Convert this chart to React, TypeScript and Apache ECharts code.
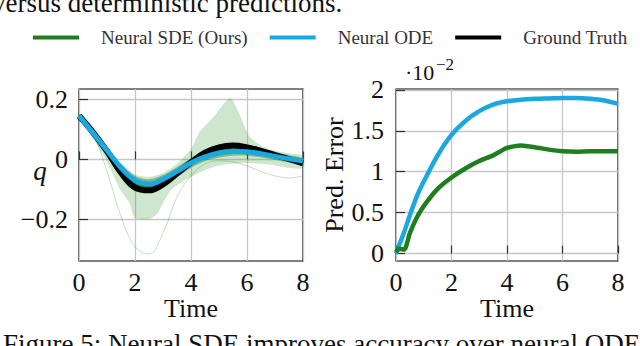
import React, { useEffect, useRef } from 'react';
import * as echarts from 'echarts';

const FONT = "'Liberation Serif', 'Times New Roman', serif";

const legendNames = ['Neural SDE (Ours)', 'Neural ODE', 'Ground Truth'];
const timeTicks = [0, 2, 4, 6, 8];
const qTicks = [-0.2, 0, 0.2];
const errTicks = [0, 0.5, 1, 1.5, 2];

// Left panel: trajectories q(t)
const qTime = [0, 0.5, 1, 1.5, 2, 2.5, 3, 3.5, 4, 4.5, 5, 5.5, 6, 6.5, 7, 7.5, 8];
const groundTruthQ = [0.145, 0.09, 0.027, -0.044, -0.094, -0.103, -0.083, -0.047, -0.01, 0.022, 0.04, 0.046, 0.04, 0.028, 0.014, 0.001, -0.013];
const odeQ = [0.145, 0.088, 0.03, -0.028, -0.07, -0.082, -0.066, -0.04, -0.012, 0.008, 0.021, 0.027, 0.025, 0.019, 0.01, 0.002, -0.005];
const sdeMeanQ = [0.145, 0.088, 0.028, -0.035, -0.078, -0.09, -0.075, -0.045, -0.012, 0.014, 0.028, 0.034, 0.031, 0.022, 0.012, 0.002, -0.008];
const sdeDenseUpper = [0.152, 0.098, 0.042, -0.015, -0.055, -0.066, -0.052, -0.025, 0.004, 0.03, 0.045, 0.05, 0.046, 0.036, 0.025, 0.014, 0.004];
const sdeDenseLower = [0.138, 0.078, 0.015, -0.055, -0.098, -0.108, -0.092, -0.06, -0.028, -0.006, 0.006, 0.012, 0.012, 0.006, -0.002, -0.01, -0.018];
const sdeOutlierQ = [0.145, 0.085, -0.04, -0.19, -0.29, -0.315, -0.245, -0.125, -0.055, -0.015, -0.005, -0.008, -0.022, -0.04, -0.055, -0.062, -0.055];

const spreadUpperTime = [0, 0.5, 1, 1.5, 2, 2.5, 3, 3.5, 4, 4.3, 4.8, 5.4, 5.75, 6.1, 6.7, 7.5, 8];
const spreadUpper = [0.152, 0.1, 0.042, -0.013, -0.05, -0.058, -0.045, -0.015, 0.035, 0.09, 0.14, 0.203, 0.147, 0.075, 0.037, 0.02, 0.012];
const spreadLowerTime = [0, 0.5, 1, 1.5, 1.8, 2, 2.5, 2.8, 3, 3.3, 3.6, 4, 4.5, 5, 6, 7, 8];
const spreadLower = [0.138, 0.07, -0.01, -0.105, -0.145, -0.195, -0.198, -0.18, -0.145, -0.1, -0.08, -0.058, -0.035, -0.02, -0.012, -0.02, -0.03];

// Right panel: prediction error (x 1e-2)
const errTime = [0, 0.1, 0.3, 0.5, 0.75, 1, 1.5, 2, 2.5, 3, 3.5, 4, 4.5, 5, 5.5, 6, 6.5, 7, 7.5, 8];
const sdeErr = [0.02, 0.06, 0.05, 0.25, 0.44, 0.58, 0.79, 0.93, 1.04, 1.13, 1.2, 1.29, 1.32, 1.3, 1.27, 1.25, 1.245, 1.25, 1.25, 1.25];
const odeErr = [0.0, 0.09, 0.27, 0.47, 0.7, 0.88, 1.2, 1.45, 1.62, 1.74, 1.82, 1.86, 1.88, 1.89, 1.895, 1.9, 1.9, 1.89, 1.87, 1.83];

const GREEN = '#1f7f1f';
const CYAN = '#1aa8e0';
const BLACK = '#000000';

const pairs = (xs: number[], ys: number[]) => xs.map((x, i) => [x, ys[i]]);

const fmtNum = (v: number) => {
  const r = Math.round(v * 1000) / 1000;
  if (r === 0) return '0';
  return r < 0 ? '\u2212' + String(Math.abs(r)) : String(r);
};

function bandSeries(name: string, upT: number[], up: number[], loT: number[], lo: number[], fill: string) {
  return {
    name,
    type: 'custom',
    xAxisIndex: 0,
    yAxisIndex: 0,
    silent: true,
    data: [[0, 0]],
    renderItem: (_params: any, api: any) => {
      const pts: number[][] = [];
      upT.forEach((t, i) => pts.push(api.coord([t, up[i]])));
      for (let i = loT.length - 1; i >= 0; i--) pts.push(api.coord([loT[i], lo[i]]));
      return {
        type: 'polygon',
        shape: { points: pts, smooth: 0.25 },
        style: { fill, stroke: 'none' },
      };
    },
  };
}

const axisCommonX = (gridIndex: number) => ({
  type: 'value',
  gridIndex,
  min: 0,
  max: 8,
  interval: 2,
  name: 'Time',
  nameLocation: 'middle',
  nameGap: 27,
  nameTextStyle: { fontFamily: FONT, fontSize: 26, color: '#111' },
  axisLine: { show: false },
  axisTick: { show: true, inside: true, length: 8, customValues: timeTicks, lineStyle: { color: '#333', width: 1.2 } },
  axisLabel: { fontFamily: FONT, fontSize: 26, color: '#111', margin: 8, customValues: timeTicks, formatter: (v: number) => fmtNum(v) },
  splitLine: { show: true, lineStyle: { color: '#c6c6c6', width: 1.3 } },
});

export default function App() {
  const ref = useRef<HTMLDivElement>(null);

  useEffect(() => {
    if (!ref.current) return;
    const chart = echarts.init(ref.current, undefined, { renderer: 'svg' });
    const option: any = {
      animation: false,
      backgroundColor: '#ffffff',
      legend: {
        data: legendNames,
        left: 28,
        top: 23,
        icon: 'rect',
        itemWidth: 46,
        itemHeight: 4,
        itemGap: 22,
        textStyle: { fontFamily: FONT, fontSize: 19, color: '#333', padding: [0, 0, 0, 17] },
        selectedMode: false,
      },
      grid: [
        { left: 79, top: 89, width: 224, height: 172, show: true, borderColor: '#000', borderWidth: 1.2, backgroundColor: 'transparent' },
        { left: 396, top: 89, width: 222, height: 172, show: true, borderColor: '#000', borderWidth: 1.2, backgroundColor: 'transparent' },
      ],
      xAxis: [axisCommonX(0), axisCommonX(1)],
      yAxis: [
        {
          type: 'value',
          gridIndex: 0,
          min: -0.338,
          max: 0.234,
          axisLine: { show: false },
          axisTick: { show: true, inside: true, length: 9, customValues: qTicks, lineStyle: { color: '#333', width: 1.2 } },
          axisLabel: { fontFamily: FONT, fontSize: 26, color: '#111', margin: 11, customValues: qTicks, formatter: (v: number) => fmtNum(v) },
          splitLine: { show: true, lineStyle: { color: '#c6c6c6', width: 1.3 } },
        },
        {
          type: 'value',
          gridIndex: 1,
          min: -0.09,
          max: 2.01,
          name: 'Pred. Error',
          nameLocation: 'middle',
          nameGap: 45,
          nameRotate: 90,
          nameTextStyle: { fontFamily: FONT, fontSize: 26, color: '#111' },
          axisLine: { show: false },
          axisTick: { show: true, inside: true, length: 9, customValues: errTicks, lineStyle: { color: '#333', width: 1.2 } },
          axisLabel: { fontFamily: FONT, fontSize: 26, color: '#111', margin: 12, customValues: errTicks, formatter: (v: number) => fmtNum(v) },
          splitLine: { show: true, lineStyle: { color: '#c6c6c6', width: 1.3 } },
        },
      ],
      graphic: [
        { type: 'text', left: -8, top: -11, silent: true, style: { text: 'versus deterministic predictions.', fontFamily: FONT, fontSize: 27, fill: '#111' } },
        { type: 'text', left: 3, top: 330, silent: true, style: { text: 'Figure 5: Neural SDE improves accuracy over neural ODE', fontFamily: FONT, fontSize: 27, fill: '#111' } },
        { type: 'text', x: 40, y: 171, silent: true, style: { text: 'q', fontFamily: FONT, fontStyle: 'italic', fontSize: 27, fill: '#111', align: 'center', verticalAlign: 'middle' } },
        { type: 'text', x: 405, y: 72.5, silent: true, style: { text: '\u00b710', fontFamily: FONT, fontSize: 22, fill: '#111', align: 'left', verticalAlign: 'middle' } },
        { type: 'text', x: 436, y: 64.5, silent: true, style: { text: '\u22122', fontFamily: FONT, fontSize: 17, fill: '#111', align: 'left', verticalAlign: 'middle' } },
      ],
      series: [
        bandSeries('sde-spread', spreadUpperTime, spreadUpper, spreadLowerTime, spreadLower, 'rgba(60,150,60,0.25)'),
        bandSeries('sde-dense', qTime, sdeDenseUpper, qTime, sdeDenseLower, 'rgba(34,130,34,0.45)'),
        {
          name: 'sde-outlier', type: 'line', xAxisIndex: 0, yAxisIndex: 0, symbol: 'none', smooth: 0.4, silent: true,
          data: pairs(qTime, sdeOutlierQ), lineStyle: { color: 'rgba(60,150,60,0.3)', width: 1 },
        },
        {
          name: legendNames[0], type: 'line', xAxisIndex: 0, yAxisIndex: 0, symbol: 'none', smooth: 0.4,
          color: GREEN, data: pairs(qTime, sdeMeanQ), lineStyle: { color: GREEN, width: 3 },
        },
        {
          name: legendNames[2], type: 'line', xAxisIndex: 0, yAxisIndex: 0, symbol: 'none', smooth: 0.4,
          color: BLACK, data: pairs(qTime, groundTruthQ), lineStyle: { color: BLACK, width: 6 },
        },
        {
          name: legendNames[1], type: 'line', xAxisIndex: 0, yAxisIndex: 0, symbol: 'none', smooth: 0.4,
          color: CYAN, data: pairs(qTime, odeQ), lineStyle: { color: CYAN, width: 5 },
        },
        {
          name: legendNames[1], type: 'line', xAxisIndex: 1, yAxisIndex: 1, symbol: 'none', smooth: 0.3,
          color: CYAN, data: pairs(errTime, odeErr), lineStyle: { color: CYAN, width: 4.5 },
        },
        {
          name: legendNames[0], type: 'line', xAxisIndex: 1, yAxisIndex: 1, symbol: 'none', smooth: 0.2,
          color: GREEN, data: pairs(errTime, sdeErr), lineStyle: { color: GREEN, width: 4.5 },
        },
      ],
    };
    chart.setOption(option);
    return () => chart.dispose();
  }, []);

  return (
    <div
      ref={ref}
      style={{ position: 'fixed', left: 0, top: 0, width: 640, height: 346, background: '#fff' }}
    />
  );
}
